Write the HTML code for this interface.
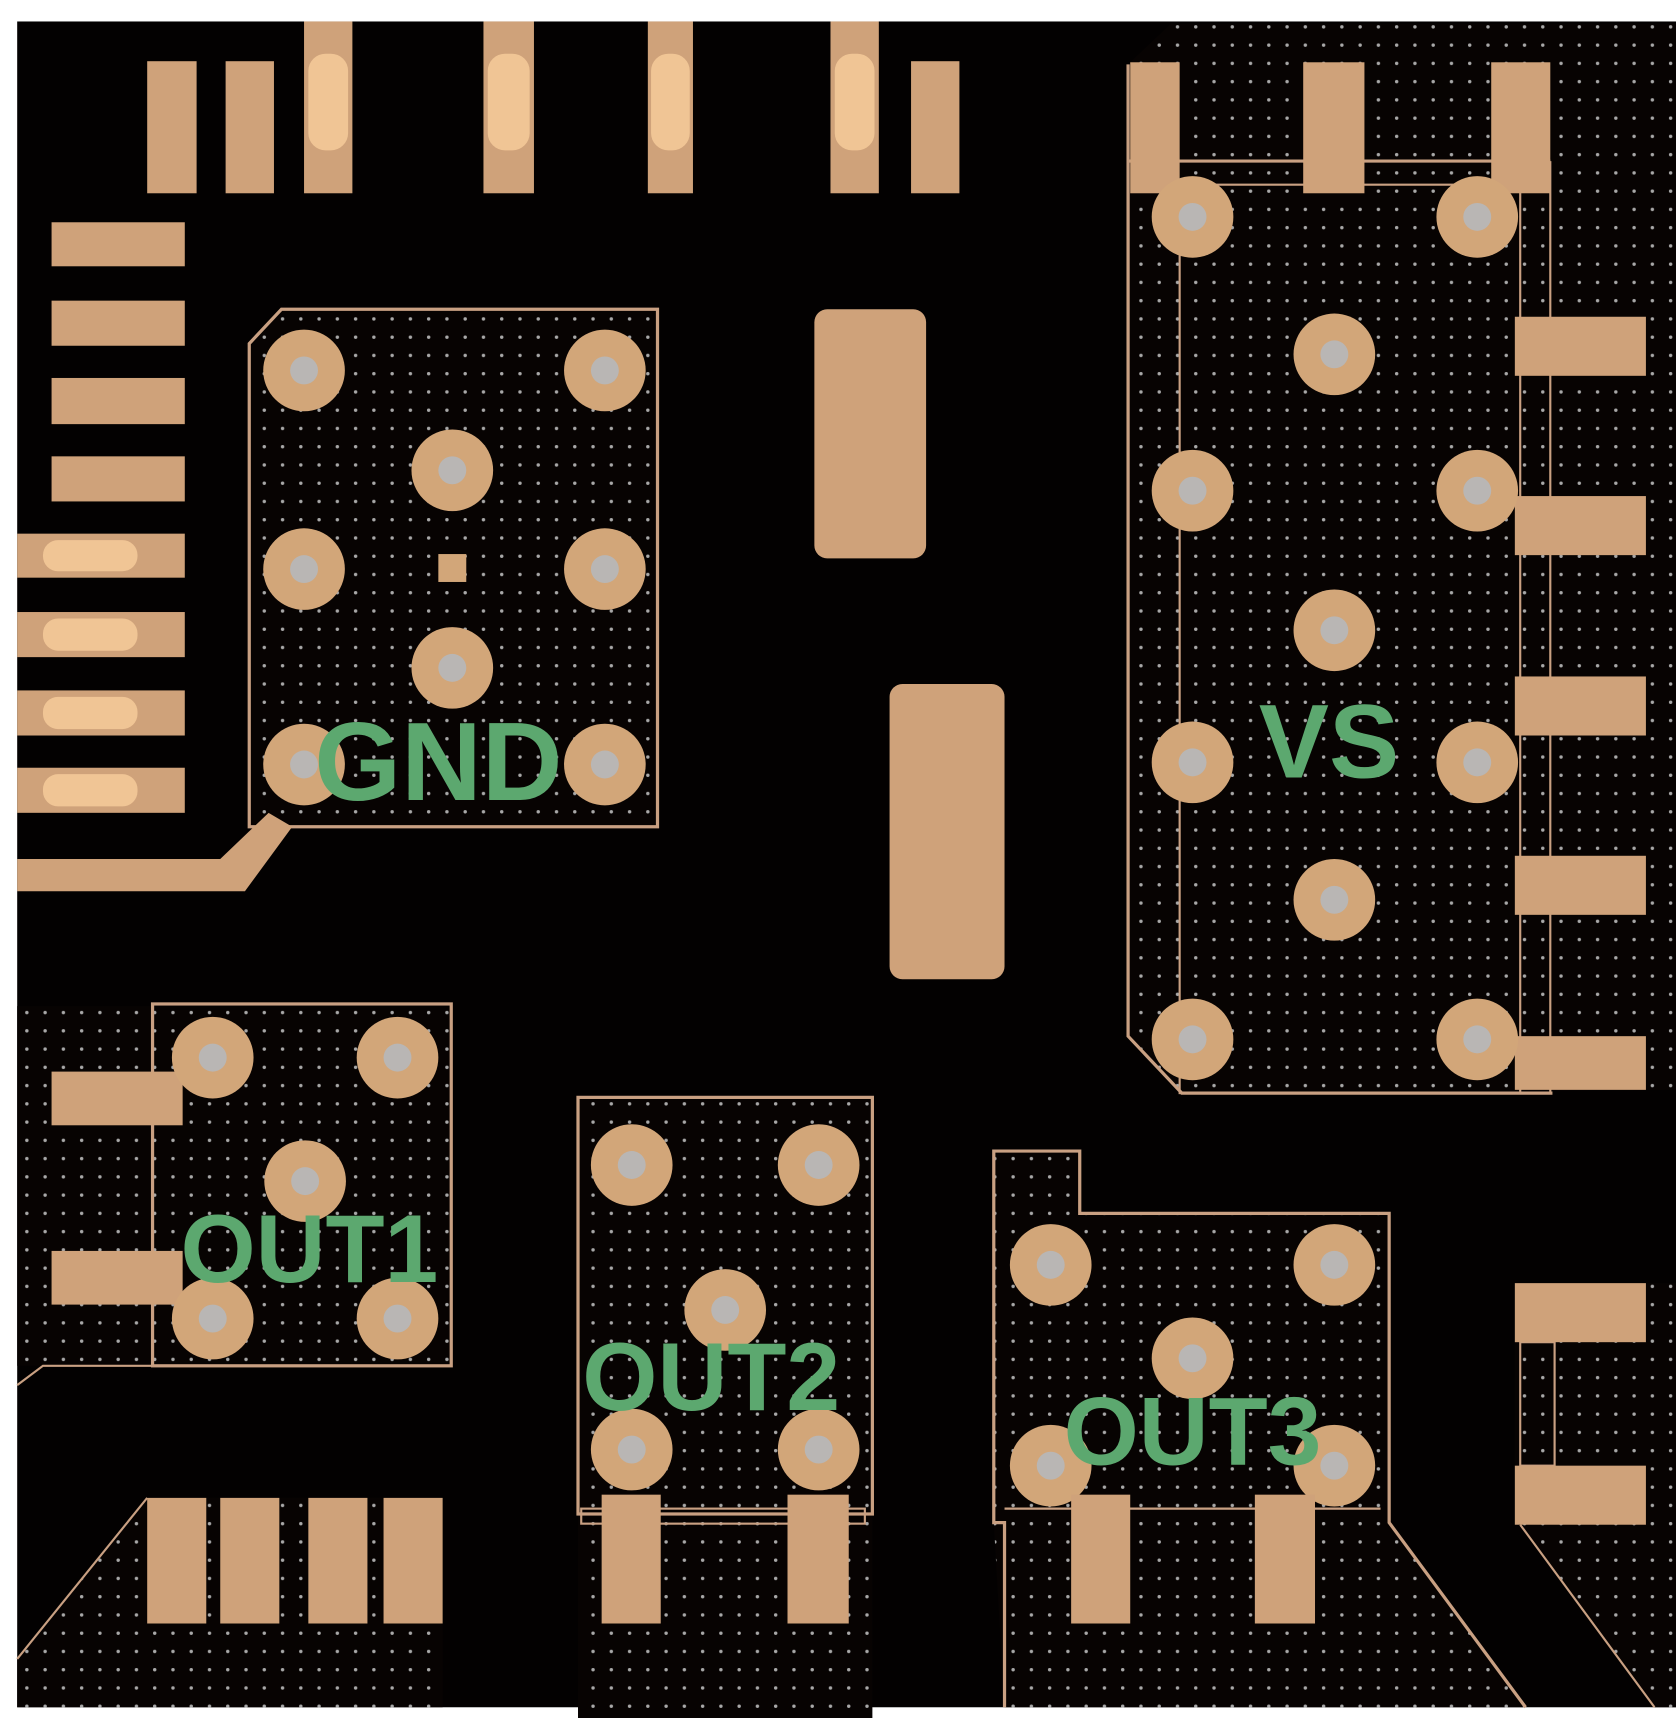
<!DOCTYPE html>
<html><head><meta charset="utf-8"><style>html,body{margin:0;padding:0;background:#fff}svg{display:block}</style></head>
<body>
<svg width="1676" height="1718" viewBox="0 0 1560 1600" preserveAspectRatio="none" xmlns="http://www.w3.org/2000/svg">
<defs>
<pattern id="dots" width="17" height="17" patternUnits="userSpaceOnUse">
<rect width="17" height="17" fill="#070302"/>
<circle cx="8" cy="8" r="1.6" fill="#a8a8a8"/>
</pattern>
<g id="via"><circle r="38" fill="#d2a679"/><circle r="13" fill="#b9b6b4"/></g>
</defs>
<rect width="1560" height="1600" fill="#fff"/>
<rect x="16" y="20" width="1544" height="1570" fill="#030101"/>

<polygon points="232,320 262,288 612,288 612,770 232,770" fill="url(#dots)" stroke="#c9a082" stroke-width="3"/>
<polygon points="1050,60 1090,22 1560,22 1560,1015 1100,1018 1050,965" fill="url(#dots)"/>
<polyline points="1050,60 1050,965 1100,1018 1445,1018" fill="none" stroke="#c9a082" stroke-width="3"/>
<rect x="1098" y="172" width="317" height="846" fill="none" stroke="#c9a082" stroke-width="2"/>
<line x1="1050" y1="150" x2="1443" y2="150" stroke="#c9a082" stroke-width="3"/>
<line x1="1443" y1="150" x2="1443" y2="1018" stroke="#c9a082" stroke-width="2"/>

<rect x="16" y="937" width="404" height="335" fill="url(#dots)"/>
<rect x="142" y="935" width="278" height="337" fill="none" stroke="#c9a082" stroke-width="3"/>
<polyline points="16,1290 40,1272 142,1272" fill="none" stroke="#c9a082" stroke-width="2"/>

<rect x="538" y="1022" width="274" height="578" fill="url(#dots)"/>
<rect x="538" y="1022" width="274" height="388" fill="none" stroke="#c9a082" stroke-width="3"/>
<rect x="541" y="1405" width="264" height="14" fill="none" stroke="#c9a082" stroke-width="2"/>

<polygon points="925,1072 1005,1072 1005,1130 1293,1130 1293,1418 1420,1590 935,1590 925,1418" fill="url(#dots)"/>
<polyline points="935,1590 935,1418 925,1418 925,1072 1005,1072 1005,1130 1293,1130 1293,1418 1420,1590" fill="none" stroke="#c9a082" stroke-width="3"/>
<line x1="935" y1="1405" x2="1285" y2="1405" stroke="#c9a082" stroke-width="2"/>

<polygon points="1410,1195 1560,1195 1560,1590 1540,1590 1415,1420 1410,1420" fill="url(#dots)"/>
<line x1="1415" y1="1420" x2="1540" y2="1590" stroke="#c9a082" stroke-width="2"/>
<rect x="1415" y="1250" width="32" height="115" fill="none" stroke="#c9a082" stroke-width="2"/>

<polygon points="16,1545 137,1395 412,1395 412,1590 16,1590" fill="url(#dots)"/>
<line x1="16" y1="1545" x2="137" y2="1395" stroke="#c9a082" stroke-width="2"/>

<g fill="#cfa27a">
<rect x="137" y="57" width="46" height="123"/>
<rect x="210" y="57" width="45" height="123"/>
<rect x="283" y="20" width="45" height="160"/>
<rect x="450" y="20" width="47" height="160"/>
<rect x="603" y="20" width="42" height="160"/>
<rect x="773" y="20" width="45" height="160"/>
<rect x="848" y="57" width="45" height="123"/>
</g>
<g fill="#f0c595">
<rect x="287" y="50" width="37" height="90" rx="16"/>
<rect x="454" y="50" width="39" height="90" rx="16"/>
<rect x="606" y="50" width="36" height="90" rx="16"/>
<rect x="777" y="50" width="37" height="90" rx="16"/>
</g>
<g fill="#cfa27a">
<rect x="48" y="207" width="124" height="41"/>
<rect x="48" y="280" width="124" height="42"/>
<rect x="48" y="352" width="124" height="43"/>
<rect x="48" y="425" width="124" height="42"/>
<rect x="16" y="497" width="156" height="41"/>
<rect x="16" y="570" width="156" height="42"/>
<rect x="16" y="643" width="156" height="42"/>
<rect x="16" y="715" width="156" height="42"/>
<polygon points="16,800 205,800 250,757 272,770 228,830 16,830"/>
</g>
<g fill="#f0c595">
<rect x="40" y="503" width="88" height="29" rx="14"/>
<rect x="40" y="576" width="88" height="30" rx="14"/>
<rect x="40" y="649" width="88" height="30" rx="14"/>
<rect x="40" y="721" width="88" height="30" rx="14"/>
</g>

<use href="#via" x="283" y="345"/><use href="#via" x="563" y="345"/>
<use href="#via" x="421" y="438"/>
<use href="#via" x="283" y="530"/><use href="#via" x="563" y="530"/>
<use href="#via" x="421" y="622"/>
<use href="#via" x="283" y="712"/><use href="#via" x="563" y="712"/>
<rect x="408" y="516" width="26" height="26" fill="#d2a679"/>

<rect x="758" y="288" width="104" height="232" rx="12" fill="#cfa27a"/>
<rect x="828" y="637" width="107" height="275" rx="12" fill="#cfa27a"/>

<g fill="#cfa27a">
<rect x="1052" y="58" width="46" height="122"/>
<rect x="1213" y="58" width="57" height="122"/>
<rect x="1388" y="58" width="55" height="122"/>
<rect x="1410" y="295" width="122" height="55"/>
<rect x="1410" y="462" width="122" height="55"/>
<rect x="1410" y="630" width="122" height="55"/>
<rect x="1410" y="797" width="122" height="55"/>
<rect x="1410" y="965" width="122" height="50"/>
<rect x="1410" y="1195" width="122" height="55"/>
<rect x="1410" y="1365" width="122" height="55"/>
</g>
<use href="#via" x="1110" y="202"/><use href="#via" x="1375" y="202"/>
<use href="#via" x="1242" y="330"/>
<use href="#via" x="1110" y="457"/><use href="#via" x="1375" y="457"/>
<use href="#via" x="1242" y="587"/>
<use href="#via" x="1110" y="710"/><use href="#via" x="1375" y="710"/>
<use href="#via" x="1242" y="838"/>
<use href="#via" x="1110" y="968"/><use href="#via" x="1375" y="968"/>

<rect x="48" y="998" width="122" height="50" fill="#cfa27a"/>
<rect x="48" y="1165" width="122" height="50" fill="#cfa27a"/>
<use href="#via" x="198" y="985"/><use href="#via" x="370" y="985"/>
<use href="#via" x="284" y="1100"/>
<use href="#via" x="198" y="1228"/><use href="#via" x="370" y="1228"/>

<use href="#via" x="588" y="1085"/><use href="#via" x="762" y="1085"/>
<use href="#via" x="675" y="1220"/>
<use href="#via" x="588" y="1350"/><use href="#via" x="762" y="1350"/>
<rect x="560" y="1392" width="55" height="120" fill="#cfa27a"/>
<rect x="733" y="1392" width="57" height="120" fill="#cfa27a"/>

<use href="#via" x="978" y="1178"/><use href="#via" x="1242" y="1178"/>
<use href="#via" x="1110" y="1265"/>
<use href="#via" x="978" y="1365"/><use href="#via" x="1242" y="1365"/>
<rect x="997" y="1392" width="55" height="120" fill="#cfa27a"/>
<rect x="1168" y="1392" width="56" height="120" fill="#cfa27a"/>

<g fill="#cfa27a">
<rect x="137" y="1395" width="55" height="117"/>
<rect x="205" y="1395" width="55" height="117"/>
<rect x="287" y="1395" width="55" height="117"/>
<rect x="357" y="1395" width="55" height="117"/>
</g>

<g font-family="Liberation Sans, sans-serif" font-weight="bold" fill="#5ca86f" text-anchor="middle">
<text x="408" y="745" font-size="104">GND</text>
<text x="1237" y="724" font-size="98">VS</text>
<text x="288" y="1194" font-size="90">OUT1</text>
<text x="662" y="1313" font-size="90">OUT2</text>
<text x="1110" y="1364" font-size="90">OUT3</text>
</g>
</svg>
</body></html>
